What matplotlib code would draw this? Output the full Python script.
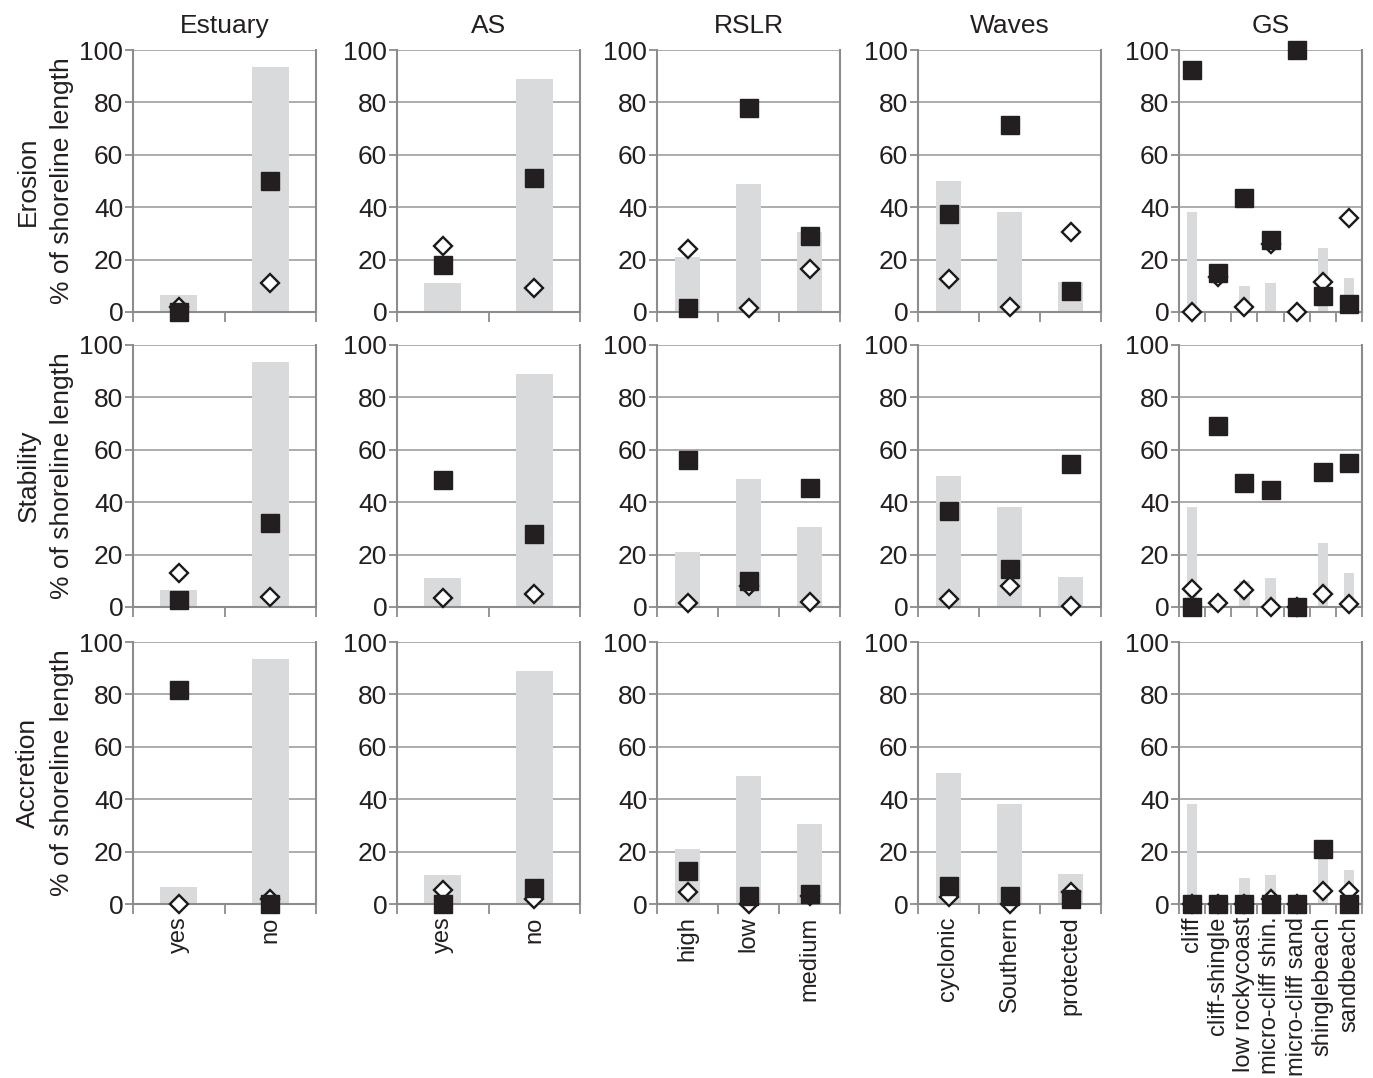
import numpy as np
import matplotlib.pyplot as plt

plt.rcParams['font.family'] = ['Liberation Sans', 'DejaVu Sans']

# column factors and their categories
factors = ['Estuary', 'AS', 'RSLR', 'Waves', 'GS']
categories = {
    'Estuary': ['yes', 'no'],
    'AS': ['yes', 'no'],
    'RSLR': ['high', 'low', 'medium'],
    'Waves': ['cyclonic', 'Southern', 'protected'],
    'GS': ['cliff', 'cliff-shingle', 'low rockycoast', 'micro-cliff shin.',
           'micro-cliff sand', 'shinglebeach', 'sandbeach'],
}
rows = ['Erosion', 'Stability', 'Accretion']

# grey bars: share of total shoreline in each category (same in every row)
share = {
    'Estuary': [6.5, 93.5],
    'AS': [11, 89],
    'RSLR': [21, 49, 30.5],
    'Waves': [50, 38, 11.5],
    'GS': [38, 0.5, 10, 11, 0, 24.5, 13],
}

# black squares
squares = {
    'Erosion': {
        'Estuary': [0, 50],
        'AS': [18, 51],
        'RSLR': [1.5, 78, 29],
        'Waves': [37.5, 71.5, 8],
        'GS': [92.5, 15, 43.5, 27.5, 100, 6, 3],
    },
    'Stability': {
        'Estuary': [2.5, 32],
        'AS': [48.5, 28],
        'RSLR': [56, 10, 45.5],
        'Waves': [36.5, 14.5, 54.5],
        'GS': [0, 69, 47.5, 44.5, 0, 51.5, 55],
    },
    'Accretion': {
        'Estuary': [81.5, 0],
        'AS': [0, 6],
        'RSLR': [12.5, 3, 4],
        'Waves': [7, 3, 2],
        'GS': [0, 0, 0, 0, 0, 21, 0],
    },
}

# open diamonds
diamonds = {
    'Erosion': {
        'Estuary': [2, 11],
        'AS': [25, 9],
        'RSLR': [24, 1.5, 16.5],
        'Waves': [12.5, 2, 30.5],
        'GS': [0, 13.5, 2, 26, 0, 11.5, 36],
    },
    'Stability': {
        'Estuary': [13, 4],
        'AS': [3.5, 5],
        'RSLR': [1.5, 8, 2],
        'Waves': [3, 8, 0.5],
        'GS': [7, 1.5, 6.5, 0, 0, 5, 1],
    },
    'Accretion': {
        'Estuary': [0, 2],
        'AS': [5.5, 2],
        'RSLR': [4.5, 0, 3],
        'Waves': [2.5, 0, 4.5],
        'GS': [0, 0, 0, 2, 0, 5, 5],
    },
}

W, H = 1373, 1078
fig = plt.figure(figsize=(W / 100, H / 100), dpi=100)

col_left = [133, 397, 657, 918, 1179]
ax_w = 183
row_top = [50, 345, 642]
ax_h = 262

txt = '#231f20'
axcol = '#8c8c8c'
gridcol = '#a6a6a6'
barcol = '#d9dadb'
fs_tick = 19
fs_title = 19
fs_x = 17
fs_y = 19

for r, row in enumerate(rows):
    for c, f in enumerate(factors):
        ax = fig.add_axes([col_left[c] / W, 1 - (row_top[r] + ax_h) / H,
                           ax_w / W, ax_h / H])
        cats = categories[f]
        n = len(cats)
        x = np.arange(n)
        ax.bar(x, share[f], width=0.4, color=barcol, zorder=2)
        ax.plot(x, diamonds[row][f], ls='none', marker='D', ms=9,
                mfc='white', mec='#1a1a1a', mew=1.7, zorder=4, clip_on=False)
        ax.plot(x, squares[row][f], ls='none', marker='s', ms=12.5,
                mfc='#231f20', mec='#231f20', zorder=5, clip_on=False)

        ax.set_xlim(-0.5, n - 0.5)
        ax.set_ylim(0, 100)
        ax.set_yticks(range(0, 101, 20))
        ax.grid(axis='y', color=gridcol, lw=1.3, zorder=1)
        ax.set_axisbelow(True)
        for s in ['left', 'right', 'bottom']:
            ax.spines[s].set_color(axcol)
            ax.spines[s].set_linewidth(1.5)
        ax.spines['top'].set_visible(False)
        ax.tick_params(axis='y', colors=axcol, length=6, width=1.3,
                       labelcolor=txt, labelsize=fs_tick, pad=1)
        ax.set_xticks(np.arange(n + 1) - 0.5)
        ax.set_xticklabels([])
        ax.tick_params(axis='x', which='major', colors=axcol, length=7,
                       width=1.3)
        ax.set_xticks(x, minor=True)
        if r == 2:
            ax.set_xticklabels(cats, minor=True, rotation=90, fontsize=fs_x,
                               color=txt)
        else:
            ax.set_xticklabels([], minor=True)
        ax.tick_params(axis='x', which='minor', length=0, pad=9)

        if r == 0:
            ax.set_title(f, fontsize=fs_title, color=txt, pad=12)
        if c == 0:
            ax.set_ylabel(row + '\n% of shoreline length', fontsize=fs_y,
                          color=txt, labelpad=4, linespacing=1.5)

fig.savefig('out.png', dpi=100)
